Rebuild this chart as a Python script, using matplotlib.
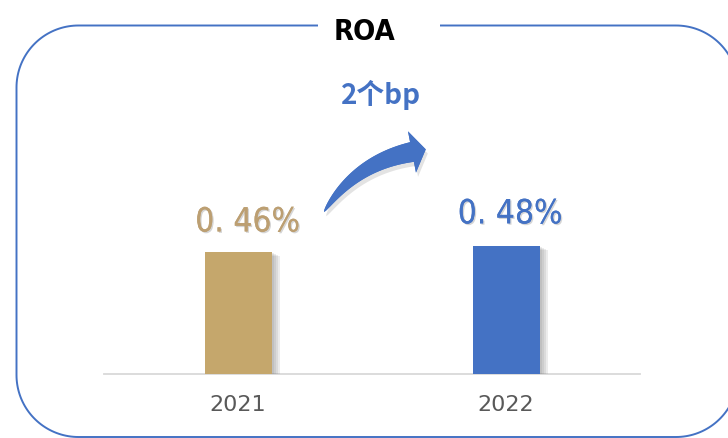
import matplotlib
matplotlib.use('Agg')
import numpy as np
import matplotlib.pyplot as plt
import matplotlib.patches as mpatches
import matplotlib.patheffects as pe

years = ['2021', '2022']
roa = [0.46, 0.48]
roa_labels = ['0. 46%', '0. 48%']
bar_colors = ['#C5A76C', '#4472C4']
label_colors = ['#BC9F72', '#4472C4']
title = 'ROA'
change_text = '2个bp'

narrow = ['Liberation Sans Narrow', 'DejaVu Sans']


def rounded_rect(x0, y0, x1, y1, r, n=40):
    # corner arcs in pixel space (y grows downward)
    pts = []
    corners = [(x1 - r, y0 + r, -90, 0), (x1 - r, y1 - r, 0, 90),
               (x0 + r, y1 - r, 90, 180), (x0 + r, y0 + r, 180, 270)]
    for cx, cy, a0, a1 in corners:
        t = np.radians(np.linspace(a0, a1, n))
        pts.append(np.column_stack([cx + r * np.cos(t), cy + r * np.sin(t)]))
    return np.vstack(pts)


def swoosh_arrow(a, c, e, body_w, head_w, head_len, n=60):
    # tapered curved body (quadratic bezier) with a triangular head
    a, c, e = map(np.asarray, (a, c, e))
    t = np.linspace(0, 1, n)[:, None]
    p = (1 - t) ** 2 * a + 2 * t * (1 - t) * c + t ** 2 * e
    d = 2 * (1 - t) * (c - a) + 2 * t * (e - c)
    d = d / np.linalg.norm(d, axis=1, keepdims=True)
    nrm = np.column_stack([d[:, 1], -d[:, 0]])
    w = body_w / 2 * t ** 0.6
    upper = p + w * nrm
    lower = p - w * nrm
    tip = e + head_len * d[-1]
    head = [e + head_w / 2 * nrm[-1], tip, e - head_w / 2 * nrm[-1]]
    return np.vstack([upper, head, lower[::-1]])


fig = plt.figure(figsize=(7.28, 4.38), dpi=100)
fig.patch.set_facecolor('white')

# main bar axes (pixel box: x 104..640, y 60..374)
ax = fig.add_axes([104 / 728, (438 - 374) / 438, 536 / 728, (374 - 60) / 438])
x = range(len(years))
bars = ax.bar(x, roa, width=0.25, color=bar_colors, zorder=3)
soft_shadow = [pe.withSimplePatchShadow(offset=(k, -k / 2), shadow_rgbFace='#707070', alpha=0.13)
               for k in (6, 4.5, 3, 1.5)]
for b in bars:
    b.set_path_effects(soft_shadow[:-1] + [soft_shadow[-1]])
ax.set_xlim(-0.5, 1.5)
ax.set_ylim(0, 1.18)
for s in ['top', 'right', 'left']:
    ax.spines[s].set_visible(False)
ax.spines['bottom'].set_color('#D9D9D9')
ax.spines['bottom'].set_linewidth(1.3)
ax.set_yticks([])
ax.set_xticks(list(x), years)
ax.tick_params(axis='x', length=0, pad=15, labelsize=16, labelcolor='#595959')
ax.patch.set_visible(False)

# value labels above bars
label_dx = [7, 3]
label_dy = [14.5, 16.5]
for i, v in enumerate(roa):
    ax.annotate(roa_labels[i], (i, v), xytext=(label_dx[i], label_dy[i]),
                textcoords='offset points', ha='center', va='baseline',
                fontsize=24, color=label_colors[i], family=narrow, fontstretch='condensed',
                path_effects=[pe.withSimplePatchShadow(offset=(1, -1), shadow_rgbFace='#888888', alpha=0.35),
                              pe.Normal()])

# overlay in pixel units for frame, title and arrow
ov = fig.add_axes([0, 0, 1, 1], zorder=5)
ov.set_xlim(0, 728)
ov.set_ylim(438, 0)
ov.axis('off')
ov.patch.set_visible(False)

frame = mpatches.Polygon(rounded_rect(16.5, 25.5, 738, 437, 62), closed=True, fill=False,
                         edgecolor='#4472C4', linewidth=1.4, joinstyle='round')
ov.add_patch(frame)
ov.add_patch(mpatches.Rectangle((318, 15), 122, 20, facecolor='white', edgecolor='none', zorder=3))
ov.text(365, 40, title, ha='center', va='baseline', fontsize=21, fontweight='bold',
        color='black', family=narrow, fontstretch='condensed', zorder=4)

arrow = mpatches.Polygon(swoosh_arrow((324, 212), (355, 163), (412, 152), 20, 42, 14),
                         closed=True, facecolor='#4472C4', edgecolor='none')
arrow.set_path_effects([pe.withSimplePatchShadow(offset=(1.5, -3), shadow_rgbFace='#808080', alpha=0.22),
                        pe.Normal()])
ov.add_patch(arrow)

ov.text(381, 104, change_text, ha='center', va='baseline', fontsize=20, fontweight='bold',
        color='#4472C4', family=['Noto Sans CJK SC', 'DejaVu Sans'])

fig.savefig('out.png', dpi=100, facecolor='white')
